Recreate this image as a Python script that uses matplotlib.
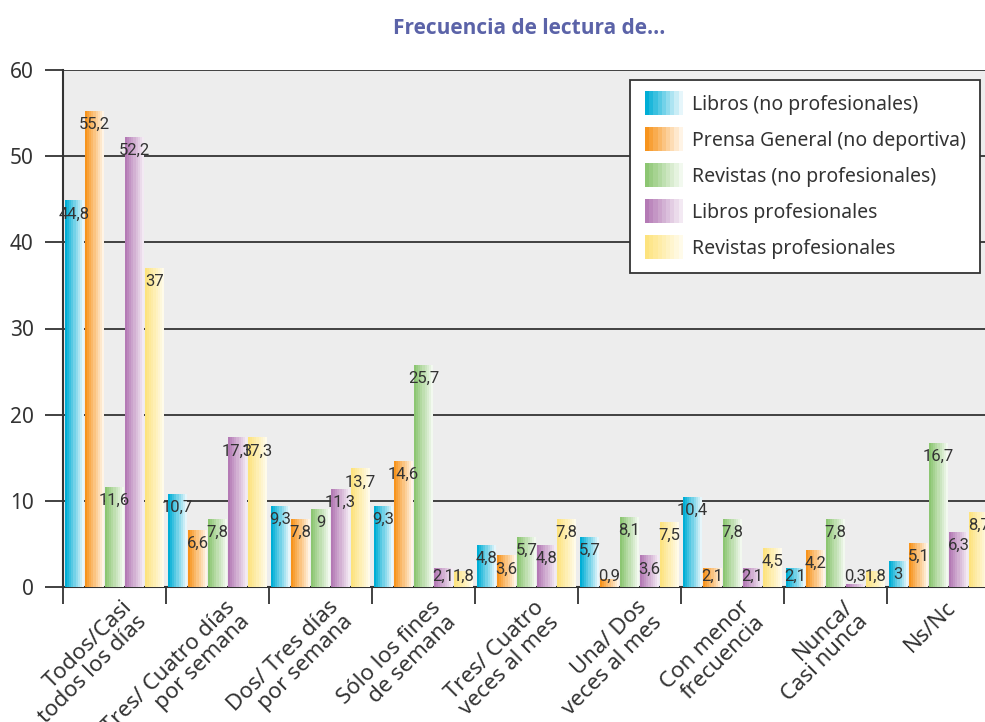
import matplotlib
matplotlib.use('Agg')
import matplotlib.pyplot as plt
import matplotlib.transforms as mtransforms
from matplotlib.colors import to_rgb
from matplotlib.legend_handler import HandlerBase
from matplotlib.patches import Rectangle
import numpy as np

plt.rcParams['font.family'] = ['Noto Sans', 'DejaVu Sans']

categories = ['Todos/Casi\ntodos los días', 'Tres/ Cuatro días\npor semana',
              'Dos/ Tres días\npor semana', 'Sólo los fines\nde semana',
              'Tres/ Cuatro\nveces al mes', 'Una/ Dos\nveces al mes',
              'Con menor\nfrecuencia', 'Nunca/\nCasi nunca', 'Ns/Nc']
series = ['Libros (no profesionales)', 'Prensa General (no deportiva)',
          'Revistas (no profesionales)', 'Libros profesionales',
          'Revistas profesionales']
libros = [44.8, 10.7, 9.3, 9.3, 4.8, 5.7, 10.4, 2.1, 3]
prensa = [55.2, 6.6, 7.8, 14.6, 3.6, 0.9, 2.1, 4.2, 5.1]
revistas = [11.6, 7.8, 9, 25.7, 5.7, 8.1, 7.8, 7.8, 16.7]
libros_prof = [52.2, 17.3, 11.3, 2.1, 4.8, 3.6, 2.1, 0.3, 6.3]
revistas_prof = [37, 17.3, 13.7, 1.8, 7.8, 7.5, 4.5, 1.8, 8.7]
values = [libros, prensa, revistas, libros_prof, revistas_prof]

# color izquierdo -> color derecho de cada degradado
grad_colors = [('#00aed6', '#e6f6fb'), ('#f7941d', '#fff4e6'),
               ('#8cc672', '#f2f9ef'), ('#b47ab5', '#f3e9f3'),
               ('#fde37e', '#fffbea')]


def mix(c0, c1, t):
    a, b = np.array(to_rgb(c0)), np.array(to_rgb(c1))
    return tuple(a + (b - a) * t)


def grad_image(c0, c1, n=9):
    return np.array([[mix(c0, c1, i / (n - 1)) for i in range(n)]])


class GradientKey:
    def __init__(self, colors):
        self.colors = colors


class GradientHandler(HandlerBase):
    def create_artists(self, legend, orig_handle, xdescent, ydescent,
                       width, height, fontsize, trans):
        c0, c1 = orig_handle.colors
        n = 9
        arts = []
        for i in range(n):
            r = Rectangle((-xdescent + i * width / n, -ydescent - 4), width / n + 0.3,
                          height + 8, facecolor=mix(c0, c1, i / (n - 1)),
                          edgecolor='none', transform=trans)
            arts.append(r)
        return arts


fig = plt.figure(figsize=(9.85, 7.22), dpi=100)
ax = fig.add_axes([63 / 985, 135 / 722, 927 / 985, 517 / 722])
ax.set_facecolor('#ededed')

bar_w = 0.18
step = 0.195
for k, (vals, (c0, c1)) in enumerate(zip(values, grad_colors)):
    img = grad_image(c0, c1)
    for i, v in enumerate(vals):
        xc = i + 0.5 + (k - 2) * step
        ax.imshow(img, extent=(xc - bar_w / 2, xc + bar_w / 2, 0, v),
                  aspect='auto', interpolation='nearest', zorder=3)
        ax.text(xc, max(v - 1.5, 1.2), f'{v:g}'.replace('.', ','),
                ha='center', va='center', fontsize=12, color='#333333',
                family='Roboto', zorder=4)

ax.set_xlim(0, len(categories))
ax.set_ylim(0, 60)
ax.set_yticks(range(0, 61, 10))
ax.yaxis.grid(True, color='#333333', linewidth=1.3, zorder=1)
ax.set_axisbelow(True)
ax.tick_params(axis='y', length=13, width=1.3, color='#333333',
               labelsize=15, labelcolor='#333333', pad=8)

ax.set_xticks(np.arange(len(categories)) + 0.5)
ax.set_xticklabels(categories, rotation=45, ha='right', va='top',
                   rotation_mode='anchor', multialignment='right',
                   fontsize=16, color='#333333', linespacing=1.0)
ax.set_xticks(np.arange(len(categories) + 1), minor=True)
ax.tick_params(axis='x', which='major', length=0, pad=7)
ax.tick_params(axis='x', which='minor', length=12, width=1.3, color='#333333')
offset = mtransforms.ScaledTranslation(0.07, 0, fig.dpi_scale_trans)
for lab in ax.get_xticklabels():
    lab.set_transform(lab.get_transform() + offset)

for s in ['top', 'right']:
    ax.spines[s].set_visible(False)
for s in ['left', 'bottom']:
    ax.spines[s].set_color('#333333')
    ax.spines[s].set_linewidth(1.5)

keys = [GradientKey(c) for c in grad_colors]
leg = ax.legend(keys, series, handler_map={GradientKey: GradientHandler()},
                loc='upper left', bbox_to_anchor=(0.612, 0.98),
                fontsize=14, frameon=True, fancybox=False, framealpha=1,
                edgecolor='#333333', borderpad=0.75, labelspacing=0.82,
                handlelength=1.95, handletextpad=0.45, borderaxespad=0)
leg.get_frame().set_linewidth(1.3)
for t in leg.get_texts():
    t.set_color('#333333')

fig.text(529 / 985, 1 - 28 / 722, 'Frecuencia de lectura de...', ha='center',
         va='center', fontsize=15, fontweight='bold', color='#5b63a8',
         family=['Open Sans', 'DejaVu Sans'])

plt.savefig('out.png', dpi=100)
